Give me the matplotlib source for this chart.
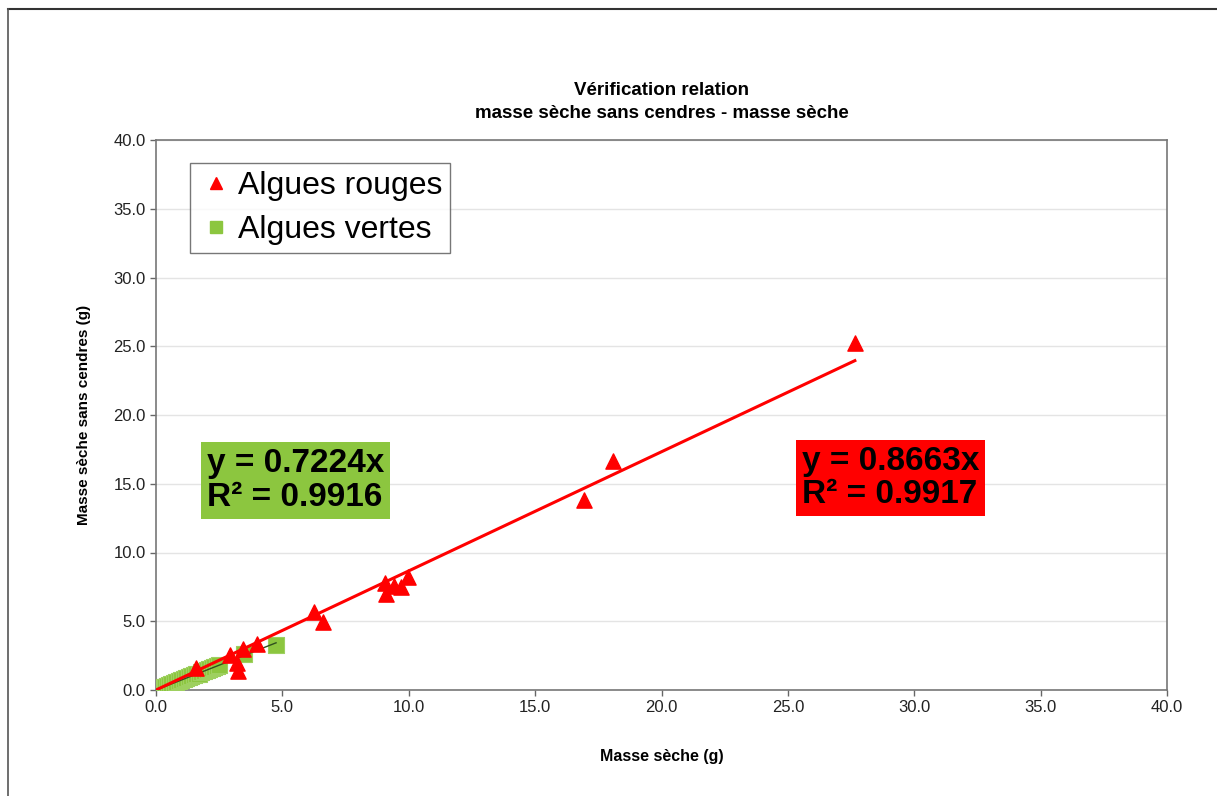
import matplotlib
matplotlib.use("Agg")
import matplotlib.pyplot as plt
from matplotlib.lines import Line2D
import numpy as np

# ---- data ----
red_x = [27.65, 18.10, 16.95, 9.97, 9.70, 9.42, 9.06, 9.10, 6.25, 6.60, 4.00, 3.45, 2.93, 3.24, 3.20, 1.60]
red_y = [25.25, 16.65, 13.85, 8.25, 7.50, 7.55, 7.80, 6.95, 5.65, 4.95, 3.35, 3.00, 2.55, 1.35, 2.00, 1.60]
green_x = [0.05, 0.10, 0.15, 0.20, 0.30, 0.35, 0.45, 0.50, 0.60, 0.70, 0.80, 0.90, 1.00, 1.10, 1.20,
           1.30, 1.40, 1.50, 1.60, 1.70, 1.80, 1.90, 2.00, 2.10, 2.20, 2.30, 2.40, 2.50, 3.50, 4.75]
green_y = [0.04, 0.07, 0.10, 0.15, 0.20, 0.25, 0.32, 0.37, 0.42, 0.50, 0.60, 0.65, 0.72, 0.80, 0.85,
           0.95, 1.00, 1.10, 1.15, 1.20, 1.30, 1.35, 1.45, 1.50, 1.60, 1.65, 1.75, 1.80, 2.60, 3.25]
red_slope = 0.8663
red_r2 = 0.9917
green_slope = 0.7224
green_r2 = 0.9916
ticks = [0, 5, 10, 15, 20, 25, 30, 35, 40]

plt.rcParams['font.family'] = ['Liberation Sans', 'DejaVu Sans']

fig = plt.figure(figsize=(12.17, 7.96), dpi=100)
ax = fig.add_axes([156/1217, 1-690/796, (1167-156)/1217, (690-140)/796])

RED = '#FF0000'
GREEN = '#8CC63F'

ax.scatter(green_x, green_y, marker='s', s=130, color=GREEN, edgecolors='#9ED060',
           linewidths=0.8, zorder=3, label='Algues vertes')
gx = np.array([0, max(green_x)])
ax.plot(gx, green_slope*gx, color='#2F4F1F', lw=1.0, zorder=4)
ax.scatter(red_x, red_y, marker='^', s=120, color=RED, edgecolors=RED, zorder=5,
           label='Algues rouges')
rx = np.array([0, max(red_x)])
ax.plot(rx, red_slope*rx, color=RED, lw=2.2, zorder=6)

ax.set_xlim(0, 40)
ax.set_ylim(0, 40)
ax.set_xticks(ticks)
ax.set_yticks(ticks)
ax.set_xticklabels([f"{t:.1f}" for t in ticks])
ax.set_yticklabels([f"{t:.1f}" for t in ticks])
for lab in ax.get_xticklabels() + ax.get_yticklabels():
    lab.set_fontsize(12)
    lab.set_color('#222222')
ax.tick_params(direction='out', length=4, color='#666666', width=1)
ax.grid(axis='y', color='#E4E4E4', lw=1)
ax.set_axisbelow(True)
for s in ax.spines.values():
    s.set_color('#777777')
    s.set_linewidth(1.2)

ax.set_xlabel('Masse sèche (g)', fontsize=11.5, fontweight='bold', labelpad=24)
ax.set_ylabel('Masse sèche sans cendres (g)', fontsize=11, fontweight='bold', labelpad=16)
ax.set_title('Vérification relation\nmasse sèche sans cendres - masse sèche',
             fontsize=13.5, fontweight='bold', pad=16, linespacing=1.45)

handles = [Line2D([], [], marker='^', ls='none', color=RED, markersize=8),
           Line2D([], [], marker='s', ls='none', color=GREEN, markersize=8)]
leg = ax.legend(handles, ['Algues rouges', 'Algues vertes'], loc='upper left',
                bbox_to_anchor=(34/1011, 1-23/550), fontsize=23, frameon=True,
                fancybox=False, edgecolor='#555555', handletextpad=0.15,
                borderpad=0.25, labelspacing=0.45, handlelength=1.1, borderaxespad=0)
leg.get_frame().set_linewidth(1.0)

ax.text(2.0, 15.25, f"y = {green_slope}x\nR² = {green_r2}", fontsize=24, fontweight='bold',
        va='center', ha='left', linespacing=1.1, zorder=7,
        bbox=dict(boxstyle='square,pad=0.18', fc=GREEN, ec='none'))
ax.text(25.55, 15.4, f"y = {red_slope}x\nR² = {red_r2}", fontsize=24, fontweight='bold',
        va='center', ha='left', linespacing=1.1, zorder=7,
        bbox=dict(boxstyle='square,pad=0.18', fc=RED, ec='none'))

# outer chart frame
fig.add_artist(Line2D([8/1217, 1], [1-9/796, 1-9/796], color='#333333', lw=1.5))
fig.add_artist(Line2D([8/1217, 8/1217], [0, 1-9/796], color='#555555', lw=1.2))

fig.savefig('out.png', dpi=100)
